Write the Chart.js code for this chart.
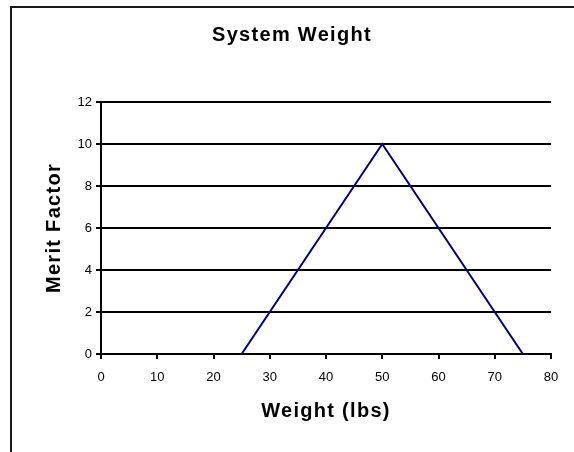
<!DOCTYPE html>
<html>
<head>
<meta charset="utf-8">
<script src="https://cdn.jsdelivr.net/npm/chart.js@4"></script>
<style>
  html, body { margin: 0; padding: 0; background: #fff; overflow: hidden; }
  #wrap { position: relative; width: 574px; height: 452px; }
  #frame {
    position: absolute; left: 10px; top: 6px; width: 620px; height: 520px;
    border: 2px solid #1a1a1a; box-sizing: border-box;
  }
  canvas { position: absolute; left: 0; top: 0; }
</style>
</head>
<body>
<div id="wrap">
  <div id="frame"></div>
  <canvas id="chart" width="574" height="452"></canvas>
</div>
<script>
// values
const weights = [25, 50, 75]
const merit = [0, 10, 0]
const xTicks = [0, 10, 20, 30, 40, 50, 60, 70, 80]
const yTicks = [0, 2, 4, 6, 8, 10, 12]

const FONT = 'Arial, "Liberation Sans", sans-serif'

const points = weights.map((w, i) => ({ x: w, y: merit[i] }))

const canvas = document.getElementById('chart')
const ctx = canvas.getContext('2d')

// the bold titles in the original are spaced out a bit (old GDI rendering)
const origFill = ctx.fillText.bind(ctx)
ctx.fillText = function (t, x, y, w) {
  this.letterSpacing = /bold/.test(this.font) ? '1.3px' : '0px'
  return w === undefined ? origFill(t, x, y) : origFill(t, x, y, w)
}

new Chart(ctx, {
  type: 'line',
  data: {
    datasets: [{
      data: points,
      borderColor: '#000080',
      borderWidth: 2,
      pointRadius: 0,
      tension: 0,
      fill: false
    }]
  },
  options: {
    responsive: false,
    animation: false,
    layout: { padding: { left: 33, right: 23, top: 0, bottom: 0 } },
    plugins: {
      legend: { display: false },
      tooltip: { enabled: false },
      title: {
        display: true,
        text: 'System Weight',
        color: '#000',
        font: { family: FONT, size: 20, weight: 'bold' },
        padding: { top: 23, bottom: 55 }
      }
    },
    scales: {
      x: {
        type: 'linear',
        min: 0,
        max: 80,
        afterBuildTicks: (s) => { s.ticks = xTicks.map(v => ({ value: v })) },
        afterFit: (s) => { s.height = 98 },
        ticks: {
          color: '#000',
          font: { family: FONT, size: 13 },
          padding: 11,
          maxRotation: 0
        },
        grid: {
          drawOnChartArea: false,
          drawTicks: true,
          tickLength: 5,
          color: '#000',
          lineWidth: 2
        },
        border: { color: '#000', width: 2 },
        title: {
          display: true,
          text: 'Weight (lbs)',
          color: '#000',
          font: { family: FONT, size: 20, weight: 'bold' },
          padding: { top: 0, bottom: 29 }
        }
      },
      y: {
        min: 0,
        max: 12,
        afterBuildTicks: (s) => { s.ticks = yTicks.map(v => ({ value: v })) },
        afterFit: (s) => { s.width = 68 },
        ticks: {
          color: '#000',
          font: { family: FONT, size: 13 },
          padding: 4
        },
        grid: {
          drawOnChartArea: true,
          drawTicks: true,
          tickLength: 5,
          color: '#000',
          lineWidth: 2
        },
        border: { color: '#000', width: 2 },
        title: {
          display: true,
          text: 'Merit Factor',
          color: '#000',
          font: { family: FONT, size: 20, weight: 'bold' },
          padding: { top: 9, bottom: 0 }
        }
      }
    }
  }
})
</script>
</body>
</html>
